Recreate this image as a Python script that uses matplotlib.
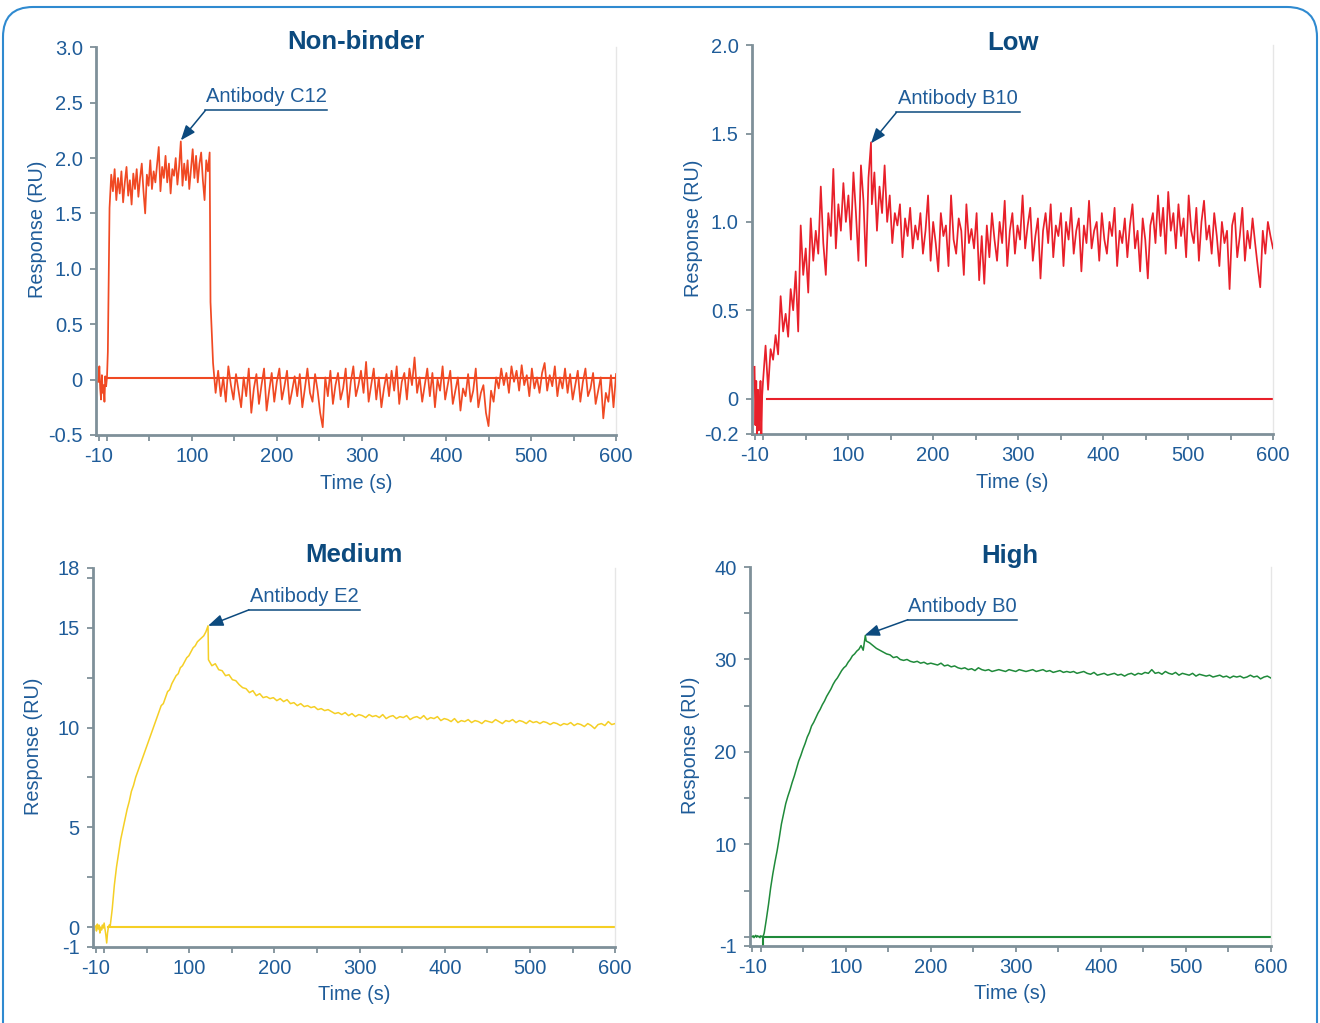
import matplotlib.pyplot as plt
import numpy as np
from matplotlib.patches import FancyBboxPatch
from matplotlib.transforms import IdentityTransform

plt.rcParams['font.family'] = ['Liberation Sans', 'DejaVu Sans']

# ---------------- data ----------------
# Non-binder, antibody C12
nb_pre = [-0.02, 0.12, -0.08, -0.18, 0.04, -0.12, -0.05, -0.20, 0.03, -0.06, 0.02]  # t -10..0
nb_assoc = [0.25, 1.55, 1.85, 1.70, 1.90, 1.62, 1.82, 1.68, 1.88, 1.60,
            1.78, 1.92, 1.66, 1.80, 1.58, 1.86, 1.72, 1.90, 1.65, 1.82,
            1.95, 1.70, 1.50, 1.85, 1.75, 1.98, 1.72, 1.88, 1.78, 1.94,
            2.10, 1.70, 1.92, 1.82, 2.02, 1.78, 1.95, 1.68, 1.90, 1.84,
            2.00, 1.76, 1.92, 2.15, 1.75, 1.95, 1.80, 1.98, 1.72, 1.90,
            2.08, 1.82, 2.02, 1.78, 1.95, 2.05, 1.80, 1.62, 1.98, 1.88,
            2.05]  # t 1..121
nb_dissoc = [0.70, 0.15, -0.12, 0.08, -0.15, 0.02, -0.20, 0.12, -0.05, -0.18,
             0.05, -0.10, -0.25, 0.02, -0.15, 0.10, -0.30, -0.08, 0.05, -0.22,
             -0.05, 0.10, -0.28, -0.10, 0.06, -0.20, -0.02, 0.10, -0.18, -0.06,
             0.08, -0.22, -0.10, 0.03, -0.15, 0.05, -0.25, -0.08, 0.10, -0.12,
             -0.20, 0.05, -0.10, -0.30, -0.43, 0.02, -0.15, 0.08, -0.22, -0.05,
             0.06, -0.18, -0.08, 0.10, -0.25, -0.02, 0.12, -0.15, -0.05, 0.08,
             -0.12, 0.16, -0.20, -0.05, 0.10, -0.18, 0.02, -0.25, -0.08, 0.05,
             -0.15, 0.08, -0.10, 0.12, -0.22, -0.02, 0.06, -0.18, 0.10, -0.05,
             0.20, -0.12, 0.02, -0.20, -0.05, 0.10, -0.15, 0.06, -0.25, 0.00,
             -0.10, 0.12, -0.18, -0.05, 0.08, -0.22, -0.10, 0.02, -0.28, -0.08,
             -0.15, 0.05, -0.20, -0.10, 0.10, -0.25, -0.12, -0.05, -0.30, -0.42,
             -0.10, -0.20, 0.02, -0.08, 0.10, -0.05, 0.06, -0.12, 0.12, -0.02,
             0.08, -0.10, 0.13, -0.05, 0.04, -0.15, 0.10, -0.08, 0.02, -0.12,
             0.06, 0.15, -0.10, 0.04, -0.06, 0.12, -0.15, 0.02, -0.08, 0.10,
             -0.12, 0.05, -0.18, -0.05, 0.08, -0.20, -0.02, 0.10, -0.15, -0.08,
             0.06, -0.22, -0.10, 0.02, -0.35, -0.12, -0.20, 0.04, -0.25, 0.05]  # t 122..600
nb_ref = [0.01, 0.01]  # t 0..600

# Low, antibody B10
lo_pre = [0.18, -0.15, 0.10, -0.20, 0.05, -0.18, -0.05, 0.10, -0.22, 0.02]  # t -10..-1
lo_assoc = [0.10, 0.30, 0.05, 0.28, 0.22, 0.36, 0.25, 0.58, 0.38, 0.48,
            0.35, 0.62, 0.50, 0.72, 0.38, 0.98, 0.70, 0.85, 0.60, 1.02,
            0.78, 0.95, 0.82, 1.20, 0.88, 0.70, 1.05, 0.92, 1.30, 0.85,
            1.10, 0.95, 1.22, 1.00, 1.15, 0.90, 1.28, 1.05, 0.78, 1.32,
            1.12, 0.75, 1.25, 1.45]  # t 0..127
lo_dissoc = [1.10, 1.28, 0.95, 1.20, 1.05, 1.32, 1.00, 1.15, 0.88, 1.05,
             0.98, 1.10, 0.80, 1.02, 0.92, 1.08, 0.85, 0.98, 0.90, 1.05,
             0.82, 0.95, 1.15, 0.78, 1.00, 0.88, 0.72, 1.05, 0.92, 0.98,
             0.75, 1.15, 0.90, 0.82, 1.02, 0.95, 0.70, 1.10, 0.88, 0.96,
             0.85, 1.05, 0.67, 0.92, 0.65, 0.98, 0.80, 1.05, 0.90, 0.78,
             1.00, 0.88, 1.12, 0.75, 0.95, 1.05, 0.82, 0.98, 0.90, 1.15,
             0.85, 0.98, 1.08, 0.78, 0.92, 1.02, 0.68, 0.95, 1.05, 0.88,
             1.10, 0.80, 0.98, 0.92, 1.05, 0.75, 1.00, 0.90, 1.08, 0.82,
             0.95, 1.02, 0.72, 0.98, 0.88, 1.12, 0.85, 0.95, 1.00, 0.78,
             1.05, 0.90, 0.82, 1.00, 0.92, 1.08, 0.75, 0.95, 0.88, 1.02,
             0.80, 0.98, 1.10, 0.85, 0.95, 0.72, 1.02, 0.90, 0.68, 0.98,
             1.05, 0.88, 1.15, 0.92, 1.08, 0.82, 1.17, 0.95, 1.05, 0.85,
             1.10, 0.92, 1.02, 0.80, 1.15, 0.95, 0.88, 1.08, 0.78, 1.00,
             1.12, 0.90, 0.98, 0.82, 1.05, 0.92, 0.75, 1.00, 0.88, 0.95,
             0.62, 0.98, 1.05, 0.80, 0.92, 1.08, 0.78, 0.95, 0.85, 1.02,
             0.88, 0.75, 0.63, 0.95, 0.82, 1.00, 0.92, 0.85]  # t 128..600
lo_ref = [0.0, 0.0]  # t 5..600

# Medium, antibody E2
md_pre = [0.05, -0.20, 0.15, -0.10, 0.10, -0.30, 0.00, -0.15, 0.10, -0.05,
          0.20, -0.10, -0.40, -0.80, -0.30, 0.00, 0.10]  # t -10..6
md_assoc = [0.0, 0.9, 2.1, 3.0, 3.7, 4.4, 4.9, 5.4, 5.9, 6.3,
            6.8, 7.1, 7.5, 7.8, 8.1, 8.4, 8.7, 9.0, 9.3, 9.6,
            9.9, 10.2, 10.5, 10.8, 11.1, 11.2, 11.5, 11.8, 11.9, 12.2,
            12.4, 12.6, 12.7, 13.0, 13.1, 13.3, 13.5, 13.6, 13.8, 14.0,
            14.1, 14.3, 14.4, 14.5, 14.6, 14.8, 15.1]  # t 7..122
md_dissoc = [13.4, 13.1, 13.2, 12.9, 12.85, 12.6, 12.65, 12.4, 12.35, 12.15,
             12.0, 11.95, 11.75, 11.85, 11.6, 11.7, 11.5, 11.55, 11.45, 11.5,
             11.35, 11.45, 11.3, 11.4, 11.2, 11.25, 11.1, 11.2, 11.05, 11.1,
             11.0, 11.05, 10.9, 10.95, 10.85, 10.9, 10.8, 10.7, 10.75, 10.65,
             10.75, 10.6, 10.7, 10.55, 10.65, 10.6, 10.5, 10.65, 10.55, 10.6,
             10.5, 10.65, 10.45, 10.55, 10.6, 10.45, 10.55, 10.5, 10.6, 10.4,
             10.5, 10.55, 10.45, 10.6, 10.4, 10.5, 10.45, 10.55, 10.35, 10.45,
             10.4, 10.3, 10.45, 10.25, 10.35, 10.3, 10.4, 10.25, 10.35, 10.3,
             10.2, 10.35, 10.3, 10.25, 10.4, 10.3, 10.2, 10.35, 10.3, 10.4,
             10.25, 10.35, 10.3, 10.2, 10.35, 10.25, 10.3, 10.2, 10.3, 10.25,
             10.15, 10.25, 10.2, 10.1, 10.2, 10.15, 10.25, 10.1, 10.2, 10.15,
             10.05, 10.2, 10.1, 9.95, 10.15, 10.2, 10.1, 10.3, 10.15, 10.2]  # t 122.5..600
md_ref = [0.0, 0.0]  # t 5..600

# High, antibody B0
hi_pre = [0.0, 0.1, -0.1, 0.05, 0.15, -0.05, 0.1, 0.0, 0.05, -0.1, 0.1, 0.0, 0.05, 0.1]  # t -10..3
hi_assoc = [0.4, 1.9, 3.5, 5.3, 6.8, 8.1, 9.3, 10.7, 12.2, 13.3,
            14.4, 15.2, 15.9, 16.7, 17.4, 18.2, 19.0, 19.6, 20.3, 20.9,
            21.6, 22.1, 22.8, 23.2, 23.7, 24.2, 24.6, 25.1, 25.5, 26.0,
            26.4, 26.8, 27.3, 27.7, 28.0, 28.4, 28.8, 29.1, 29.3, 29.7,
            30.0, 30.4, 30.6, 30.9, 31.1, 31.5, 31.0, 32.6]  # t 4..123
hi_dissoc = [32.0, 31.8, 31.5, 31.2, 31.0, 30.8, 30.6, 30.5, 30.2, 30.3,
             30.0, 29.9, 30.0, 29.8, 29.7, 29.8, 29.6, 29.7, 29.5, 29.6,
             29.5, 29.4, 29.6, 29.3, 29.4, 29.2, 29.3, 29.1, 29.0, 29.1,
             28.9, 29.0, 28.8, 29.1, 28.9, 28.8, 28.9, 28.7, 28.8, 28.9,
             28.8, 28.7, 28.9, 28.8, 28.7, 28.9, 28.8, 28.7, 28.8, 28.9,
             28.7, 28.8, 28.9, 28.7, 28.8, 28.6, 28.7, 28.8, 28.6, 28.7,
             28.6, 28.7, 28.5, 28.6, 28.7, 28.5, 28.4, 28.6, 28.3, 28.4,
             28.5, 28.3, 28.4, 28.5, 28.3, 28.4, 28.2, 28.4, 28.5, 28.3,
             28.5, 28.4, 28.6, 28.5, 28.9, 28.5, 28.6, 28.4, 28.7, 28.5,
             28.4, 28.6, 28.3, 28.5, 28.4, 28.3, 28.5, 28.2, 28.4, 28.3,
             28.2, 28.3, 28.1, 28.2, 28.3, 28.1, 28.2, 28.0, 28.2, 28.1,
             28.2, 28.0, 28.1, 28.3, 28.1, 28.2, 27.9, 28.1, 28.2, 28.0]  # t 124..600
hi_ref_t = [3, 3, 600]
hi_ref = [-1.0, 0.0, 0.0]

titles = ['Non-binder', 'Low', 'Medium', 'High']
antibodies = ['Antibody C12', 'Antibody B10', 'Antibody E2', 'Antibody B0']

x_ticks = [-10, 0, 50, 100, 150, 200, 250, 300, 350, 400, 450, 500, 550, 600]
x_labels = ['-10', '', '', '100', '', '200', '', '300', '', '400', '', '500', '', '600']

y_ticks = [[-0.5, 0, 0.5, 1.0, 1.5, 2.0, 2.5, 3.0],
           [-0.2, 0, 0.5, 1.0, 1.5, 2.0],
           [-1, 0, 2.5, 5, 7.5, 10, 12.5, 15, 17.5, 18],
           [-1, 0, 5, 10, 15, 20, 25, 30, 35, 40]]
y_labels = [['-0.5', '0', '0.5', '1.0', '1.5', '2.0', '2.5', '3.0'],
            ['-0.2', '0', '0.5', '1.0', '1.5', '2.0'],
            ['-1', '0', '', '5', '', '10', '', '15', '', '18'],
            ['-1', '', '', '10', '', '20', '', '30', '', '40']]
y_lims = [(-0.5, 3.0), (-0.2, 2.0), (-1, 18), (-1, 40)]

# ---------------- style ----------------
colors = ['#f04923', '#e8202a', '#f5cf25', '#1f8a3a']
widths = [1.25, 1.25, 1.1, 1.1]
navy = '#0c4a7e'
tick_blue = '#1f5c99'
spine_gray = '#7f9099'

fig = plt.figure(figsize=(13.2, 10.23), dpi=100)
boxes = [[0.0727, 0.5748, 0.394, 0.379],
         [0.5697, 0.5758, 0.3947, 0.380],
         [0.0705, 0.0743, 0.3955, 0.3705],
         [0.5680, 0.0753, 0.3947, 0.3704]]
title_y = [1.014, 1.006, 1.033, 1.028]
# arrow tip, elbow, end of underline (data coords)
notes = [((87, 2.16), (116, 2.43), 259),
         ((127, 1.445), (157, 1.62), 302),
         ((122, 15.1), (170, 15.9), 301),
         ((122, 32.6), (173, 34.3), 302)]

segments = [
    [(-10, 0, nb_pre), (1, 121, nb_assoc), (122, 600, nb_dissoc)],
    [(-10, -1, lo_pre), (0, 127, lo_assoc), (128, 600, lo_dissoc)],
    [(-10, 6, md_pre), (7, 122, md_assoc), (122.5, 600, md_dissoc)],
    [(-10, 3, hi_pre), (4, 123, hi_assoc), (124, 600, hi_dissoc)],
]
refs = [([0, 600], nb_ref), ([5, 600], lo_ref), ([5, 600], md_ref), (hi_ref_t, hi_ref)]

for i in range(4):
    ax = fig.add_axes(boxes[i])
    ts, ys = [], []
    for t0, t1, vals in segments[i]:
        ts.append(np.linspace(t0, t1, len(vals)))
        ys.append(np.array(vals))
    ax.plot(np.concatenate(ts), np.concatenate(ys), color=colors[i], lw=widths[i], zorder=3)
    ax.plot(refs[i][0], refs[i][1], color=colors[i], lw=1.5, zorder=2)

    ax.set_xlim(-13, 600)
    ax.set_ylim(*y_lims[i])
    ax.set_xticks(x_ticks)
    ax.set_xticklabels(x_labels)
    ax.set_yticks(y_ticks[i])
    ax.set_yticklabels(y_labels[i])
    ax.tick_params(colors=spine_gray, labelcolor=tick_blue, labelsize=14.5,
                   length=4.5, width=1.3, direction='out')
    ax.tick_params(axis='x', pad=4)
    ax.tick_params(axis='y', pad=5)

    for s in ['left', 'bottom']:
        ax.spines[s].set_color(spine_gray)
        ax.spines[s].set_linewidth(2)
    ax.spines['top'].set_visible(False)
    ax.spines['right'].set_color('#e6e6e6')
    ax.spines['right'].set_linewidth(1)

    ax.set_xlabel('Time (s)', fontsize=14.3, color=tick_blue)
    ax.set_ylabel('Response (RU)', fontsize=14.3, color=tick_blue)
    ax.xaxis.set_label_coords(0.5, -0.1)
    ax.yaxis.set_label_coords(-0.095, 0.53)

    ax.text(0.5, title_y[i], titles[i], transform=ax.transAxes, ha='center', va='center',
            fontsize=18.5, fontweight='bold', color=navy)

    tip, elbow, xend = notes[i]
    ax.annotate('', xy=tip, xytext=elbow,
                arrowprops=dict(arrowstyle='-|>,head_length=0.9,head_width=0.35',
                                color=navy, lw=1.1, shrinkA=0, shrinkB=0), zorder=5)
    ax.plot([elbow[0], xend], [elbow[1], elbow[1]], color=navy, lw=1.1, zorder=5)
    ax.annotate(antibodies[i], xy=((elbow[0] + xend) / 2, elbow[1]), xytext=(0, 3),
                textcoords='offset points', ha='center', va='bottom',
                fontsize=14.5, color=tick_blue, zorder=5)

# rounded frame around the figure
frame = FancyBboxPatch((3, -40), 1314, 1056, boxstyle='round,pad=0,rounding_size=30',
                       transform=IdentityTransform(), facecolor='none',
                       edgecolor='#2f8ad0', lw=1.5)
fig.patches.append(frame)

fig.savefig('out.png', dpi=100)
